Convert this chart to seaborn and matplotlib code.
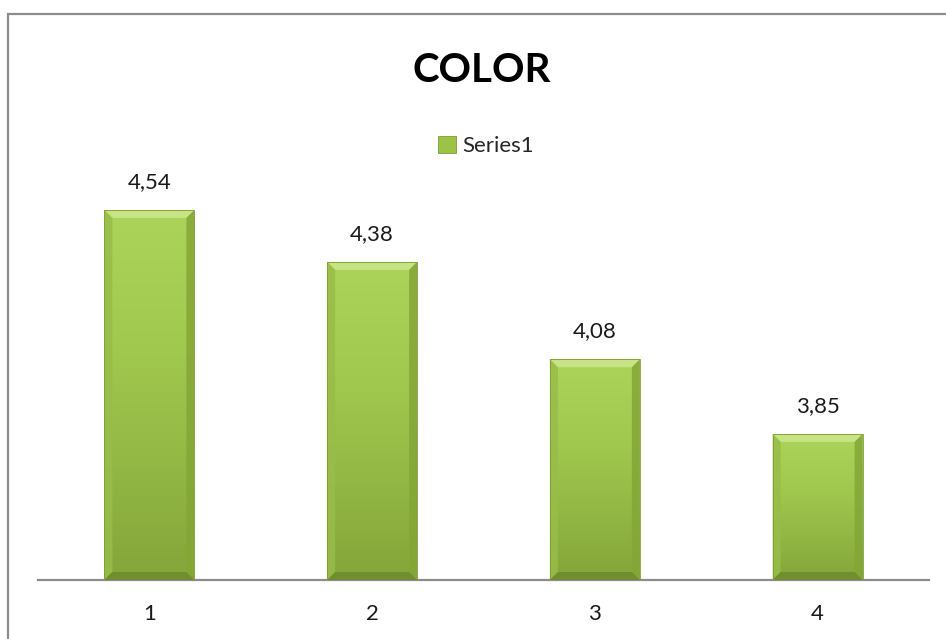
import matplotlib
matplotlib.use("Agg")
import matplotlib.pyplot as plt
import numpy as np
import pandas as pd
import seaborn as sns
from matplotlib.patches import Patch, Polygon, Rectangle
from matplotlib.colors import LinearSegmentedColormap

categories = ["1", "2", "3", "4"]
values = [4.54, 4.38, 4.08, 3.85]
value_labels = ["4,54", "4,38", "4,08", "3,85"]
series_name = "Series1"
title = "COLOR"

sns.set_theme(style="white")
plt.rcParams["font.family"] = ["Lato", "DejaVu Sans"]

W, H = 946, 639
fig = plt.figure(figsize=(W / 100, H / 100), dpi=100)
fig.patch.set_facecolor("white")

# outer chart frame
fig.add_artist(Rectangle((8 / W, -0.05), 1.2, 1 - 14 / H + 0.05, transform=fig.transFigure,
                         fill=False, edgecolor="#8c8c8c", linewidth=1.6))

y_min, y_max = 3.4, 4.8
base_px, top_px = 580, 580 - (y_max - y_min) * 324.6
ax = fig.add_axes([38 / W, 1 - base_px / H, (929 - 38) / W, (base_px - top_px) / H])

df = pd.DataFrame({"cat": categories, "val": values})
sns.barplot(data=df, x="cat", y="val", color="#a3c94e", width=0.404, ax=ax,
            edgecolor="none", saturation=1)
ax.set_ylim(y_min, y_max)
ax.set_xlim(-0.5, 3.5)

body = LinearSegmentedColormap.from_list("body", ["#84a53a", "#94b945", "#a3ca50", "#acd35a"])
grad = np.linspace(0, 1, 256).reshape(-1, 1)
bx = 8 / 222.7
by = 8 / 324.6
for p in list(ax.patches):
    x0, w = p.get_x(), p.get_width()
    y0, h = y_min, p.get_y() + p.get_height() - y_min
    x1, y1 = x0 + w, y0 + h
    im = ax.imshow(grad, extent=[x0, x1, y0, y1], origin="lower", cmap=body,
                   aspect="auto", zorder=2)
    im.set_clip_path(p)
    # bevel faces
    ax.add_patch(Polygon([(x0, y1), (x1, y1), (x1 - bx, y1 - by), (x0 + bx, y1 - by)],
                         closed=True, facecolor="#c6e484", edgecolor="none", zorder=3))
    ax.add_patch(Polygon([(x0, y1), (x0 + bx, y1 - by), (x0 + bx, y0 + by), (x0, y0)],
                         closed=True, facecolor="#98bd48", edgecolor="none", alpha=0.85, zorder=3))
    ax.add_patch(Polygon([(x1, y1), (x1 - bx, y1 - by), (x1 - bx, y0 + by), (x1, y0)],
                         closed=True, facecolor="#84a637", edgecolor="none", alpha=0.85, zorder=3))
    ax.add_patch(Polygon([(x0, y0), (x0 + bx, y0 + by), (x1 - bx, y0 + by), (x1, y0)],
                         closed=True, facecolor="#6d8a2c", edgecolor="none", alpha=0.85, zorder=3))
    ax.add_patch(Rectangle((x0, y0), w, h, fill=False, edgecolor="#7d9c36",
                           linewidth=0.6, zorder=4))
    p.set_visible(False)

for i, (v, lab) in enumerate(zip(values, value_labels)):
    ax.annotate(lab, (i, v), xytext=(0, 20), textcoords="offset points",
                ha="center", va="center", fontsize=16, color="#1a1a1a")

for s in ["top", "right", "left"]:
    ax.spines[s].set_visible(False)
ax.spines["bottom"].set_color("#8c8c8c")
ax.spines["bottom"].set_linewidth(1.6)
ax.set_yticks([])
ax.set_xlabel("")
ax.set_ylabel("")
ax.tick_params(axis="x", length=0, pad=17, labelsize=16, labelcolor="#1a1a1a")
ax.set_facecolor("none")

fig.text(482 / W, 1 - 70 / H, title, ha="center", va="center",
         fontsize=29, fontweight="bold", color="black")

leg_handle = Patch(facecolor="#9cc248", edgecolor="#7d9c36", linewidth=0.6)
fig.legend([leg_handle], [series_name], loc="center", bbox_to_anchor=(486 / W, 1 - 146 / H),
           frameon=False, fontsize=16, handlelength=0.8, handleheight=0.8,
           handletextpad=0.3, borderpad=0)

fig.savefig("out.png", dpi=100)
